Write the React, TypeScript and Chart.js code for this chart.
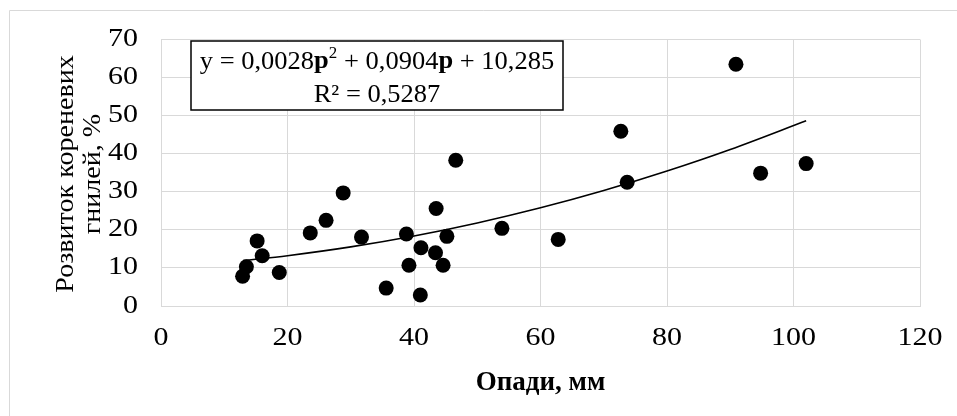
import React, { useEffect, useRef } from 'react';
import { Chart, registerables } from 'chart.js';

Chart.register(...registerables);

// Rainfall (mm) vs root-rot development (%)
const rainfall = [12.9, 13.5, 15.2, 16.0, 18.7, 23.6, 26.1, 28.8, 31.7, 35.6, 38.8, 39.2, 41.0, 41.1, 43.4, 43.5, 44.6, 45.2, 46.6, 53.9, 62.8, 72.7, 73.7, 90.9, 94.8, 102.0];
const rootRot = [7.8, 10.3, 17.1, 13.2, 8.8, 19.2, 22.5, 29.7, 18.1, 4.7, 18.9, 10.7, 2.9, 15.3, 14.0, 25.6, 10.7, 18.3, 38.3, 20.4, 17.5, 45.9, 32.5, 63.5, 34.9, 37.4];

// Polynomial trend line values
const trendX = [13, 20, 30, 40, 50, 60, 70, 80, 90, 102];
const trendY = [11.93, 13.21, 15.52, 18.38, 21.81, 25.79, 30.33, 35.44, 41.1, 48.64];

const xTicks = [0, 20, 40, 60, 80, 100, 120];
const yTicks = [0, 10, 20, 30, 40, 50, 60, 70];

const xTitle = 'Опади, мм';
const yTitleLines = ['Розвиток кореневих', 'гнилей, %'];
const eqSegments = [
  { t: 'y = 0,0028', b: false, sup: false },
  { t: 'p', b: true, sup: false },
  { t: '2', b: false, sup: true },
  { t: ' + 0,0904', b: false, sup: false },
  { t: 'p', b: true, sup: false },
  { t: ' + 10,285', b: false, sup: false },
];
const r2Text = 'R² = 0,5287';

const FONT = '"Liberation Serif", "Times New Roman", serif';

function drawText(
  ctx: CanvasRenderingContext2D,
  text: string,
  x: number,
  y: number,
  size: number,
  sx: number,
  bold: boolean,
  align: CanvasTextAlign,
  rotate = 0
) {
  ctx.save();
  ctx.translate(x, y);
  if (rotate) ctx.rotate(rotate);
  ctx.scale(sx, 1);
  ctx.font = `${bold ? 'bold ' : ''}${size}px ${FONT}`;
  ctx.textAlign = align;
  ctx.textBaseline = 'middle';
  ctx.fillStyle = '#000000';
  ctx.fillText(text, 0, 0);
  ctx.restore();
}

const decorPlugin = {
  id: 'decor',
  afterDraw(chart: any) {
    const ctx = chart.ctx as CanvasRenderingContext2D;
    const W = chart.width;
    const H = chart.height;
    const xs = chart.scales.x;
    const ys = chart.scales.y;
    ctx.save();
    // outer chart-area border (cropped on right & bottom)
    ctx.strokeStyle = '#d9d9d9';
    ctx.lineWidth = 1;
    ctx.beginPath();
    ctx.moveTo(9.5, H);
    ctx.lineTo(9.5, 10.5);
    ctx.lineTo(W, 10.5);
    ctx.stroke();

    // tick labels
    const tickSize = 25;
    const tickSx = 1.2;
    xTicks.forEach((v) => {
      drawText(ctx, String(v), xs.getPixelForValue(v), 338.5, tickSize, tickSx, false, 'center');
    });
    yTicks.forEach((v) => {
      drawText(ctx, String(v), 138, ys.getPixelForValue(v), tickSize, tickSx, false, 'right');
    });

    // equation box
    const bx = 191, by = 41, bw = 372, bh = 69;
    ctx.fillStyle = '#ffffff';
    ctx.fillRect(bx, by, bw, bh);
    ctx.strokeStyle = '#000000';
    ctx.lineWidth = 1.5;
    ctx.strokeRect(bx, by, bw, bh);

    const eqSize = 25;
    const eqSx = 1.06;
    const fontFor = (s: any) =>
      `${s.b ? 'bold ' : ''}${s.sup ? Math.round(eqSize * 0.65) : eqSize}px ${FONT}`;
    let total = 0;
    for (const s of eqSegments) {
      ctx.font = fontFor(s);
      total += ctx.measureText(s.t).width * eqSx;
    }
    const cx = bx + bw / 2;
    let x = cx - total / 2;
    const line1 = 62;
    for (const s of eqSegments) {
      const size = s.sup ? Math.round(eqSize * 0.65) : eqSize;
      drawText(ctx, s.t, x, s.sup ? line1 - 8 : line1, size, eqSx, s.b, 'left');
      ctx.font = fontFor(s);
      x += ctx.measureText(s.t).width * eqSx;
    }
    drawText(ctx, r2Text, cx, 95, eqSize, eqSx, false, 'center');

    // x axis title
    drawText(ctx, xTitle, (chart.chartArea.left + chart.chartArea.right) / 2, 383, 27, 1.0, true, 'center');

    // y axis title (two lines, rotated)
    const lineX = [66, 93];
    yTitleLines.forEach((t, i) => {
      drawText(ctx, t, lineX[i], 174, 26, 1.08, false, 'center', -Math.PI / 2);
    });
    ctx.restore();
  },
};

export default function App() {
  const ref = useRef<HTMLCanvasElement | null>(null);
  useEffect(() => {
    if (!ref.current) return;
    const chart = new Chart(ref.current, {
      type: 'scatter',
      data: {
        datasets: [
          {
            type: 'scatter',
            data: rainfall.map((v, i) => ({ x: v, y: rootRot[i] })),
            backgroundColor: '#000000',
            borderColor: '#000000',
            borderWidth: 0,
            pointRadius: 7.5,
            order: 0,
          } as any,
          {
            type: 'line',
            data: trendX.map((v, i) => ({ x: v, y: trendY[i] })),
            borderColor: '#000000',
            borderWidth: 1.6,
            pointRadius: 0,
            fill: false,
            showLine: true,
            cubicInterpolationMode: 'monotone',
            order: 1,
          } as any,
        ],
      },
      options: {
        responsive: false,
        animation: false,
        layout: { padding: { left: 0, top: 39.5, right: 37, bottom: 0 } },
        plugins: { legend: { display: false }, tooltip: { enabled: false } },
        scales: {
          x: {
            type: 'linear',
            min: 0,
            max: 120,
            afterBuildTicks: (s: any) => {
              s.ticks = xTicks.map((v) => ({ value: v }));
            },
            afterFit: (s: any) => {
              s.height = 110;
            },
            grid: { color: '#d9d9d9', lineWidth: 1, drawTicks: false },
            border: { display: true, color: '#d9d9d9' },
            ticks: { display: false },
          },
          y: {
            type: 'linear',
            min: 0,
            max: 70,
            afterBuildTicks: (s: any) => {
              s.ticks = yTicks.map((v) => ({ value: v }));
            },
            afterFit: (s: any) => {
              s.width = 161;
            },
            grid: { color: '#d9d9d9', lineWidth: 1, drawTicks: false },
            border: { display: true, color: '#d9d9d9' },
            ticks: { display: false },
          },
        },
      },
      plugins: [decorPlugin],
    });
    return () => chart.destroy();
  }, []);
  return (
    <div style={{ position: 'absolute', left: 0, top: 0, width: 957, height: 416, background: '#ffffff' }}>
      <canvas ref={ref} width={957} height={416} style={{ width: 957, height: 416, display: 'block' }} />
    </div>
  );
}
